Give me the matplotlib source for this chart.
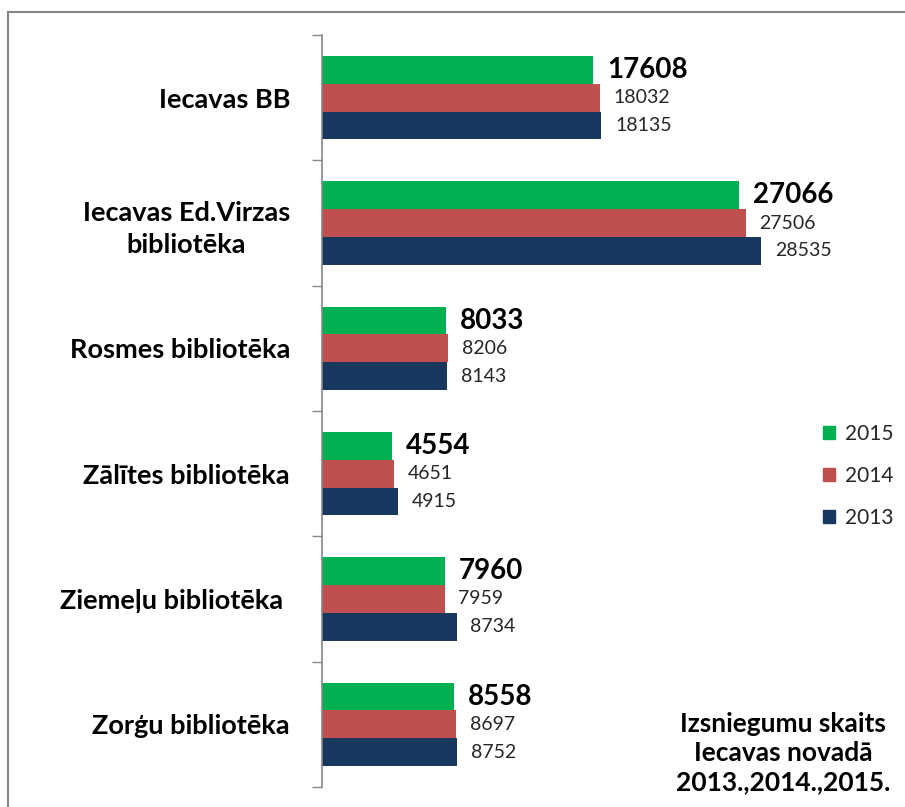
import numpy as np
import matplotlib
matplotlib.use("Agg")
import matplotlib.pyplot as plt
from matplotlib.lines import Line2D

plt.rcParams["font.family"] = ["Lato", "DejaVu Sans"]

libraries = [
    "Iecavas BB",
    "Iecavas Ed.Virzas\nbibliotēka",
    "Rosmes bibliotēka",
    "Zālītes bibliotēka",
    "Ziemeļu bibliotēka ",
    "Zorģu bibliotēka",
]
years = ["2015", "2014", "2013"]
v2015 = [17608, 27066, 8033, 4554, 7960, 8558]
v2014 = [18032, 27506, 8206, 4651, 7959, 8697]
v2013 = [18135, 28535, 8143, 4915, 8734, 8752]
colors = ["#00B050", "#C0504D", "#17375E"]
title_text = "Izsniegumu skaits\nIecavas novadā\n2013.,2014.,2015."

W, H = 905, 807
fig = plt.figure(figsize=(W / 100, H / 100), dpi=100)
ax_left, ax_right = 322, 784
ax_top, ax_bot = 35, 787
ax = fig.add_axes([ax_left / W, 1 - ax_bot / H, (ax_right - ax_left) / W, (ax_bot - ax_top) / H])

y = np.arange(len(libraries))
bh = 0.221
series = [v2015, v2014, v2013]
for k, (vals, col, yr) in enumerate(zip(series, colors, years)):
    ypos = y + (k - 1) * bh
    ax.barh(ypos, vals, height=bh, color=col, label=yr, edgecolor="none")
    for yy, v in zip(ypos, vals):
        if k == 0:
            ax.annotate(str(v), (v, yy), xytext=(10, 0), textcoords="offset points",
                        va="center", ha="left", fontsize=20, fontweight="bold", color="black")
        else:
            ax.annotate(str(v), (v, yy), xytext=(10, 0), textcoords="offset points",
                        va="center", ha="left", fontsize=14, color="#262626")

ax.set_xlim(0, 30000)
ax.set_ylim(len(libraries) - 0.5, -0.5)
ax.set_xticks([])
ax.set_yticks(y)
ax.set_yticklabels(libraries, fontsize=19.5, fontweight="bold")
for t in ax.get_yticklabels():
    t.set_multialignment("center")
    t.set_linespacing(1.4)
ax.set_yticks(np.arange(len(libraries) + 1) - 0.5, minor=True)
ax.tick_params(axis="y", which="major", length=0, pad=23)
ax.tick_params(axis="y", which="minor", length=7.2, width=1, color="#868686")
for s in ["top", "right", "bottom"]:
    ax.spines[s].set_visible(False)
ax.spines["left"].set_color("#868686")
ax.spines["left"].set_linewidth(1.2)

handles = [plt.Rectangle((0, 0), 1, 1, color=c) for c in colors]
fig.legend(handles, years, loc="upper left", bbox_to_anchor=(804 / W, 1 - 405 / H),
           frameon=False, fontsize=15, handlelength=0.6, handleheight=0.6,
           handletextpad=0.45, labelspacing=1.05, labelcolor="#262626")

fig.text(783 / W, 1 - 753 / H, title_text, ha="center", va="center",
         fontsize=19, fontweight="bold", linespacing=1.25)

fig.add_artist(Line2D([8 / W, 8 / W], [0, 1 - 12 / H], transform=fig.transFigure,
                      color="#868686", lw=1.5))
fig.add_artist(Line2D([8 / W, 1], [1 - 12 / H, 1 - 12 / H], transform=fig.transFigure,
                      color="#868686", lw=1.5))

fig.savefig("out.png", dpi=100)
